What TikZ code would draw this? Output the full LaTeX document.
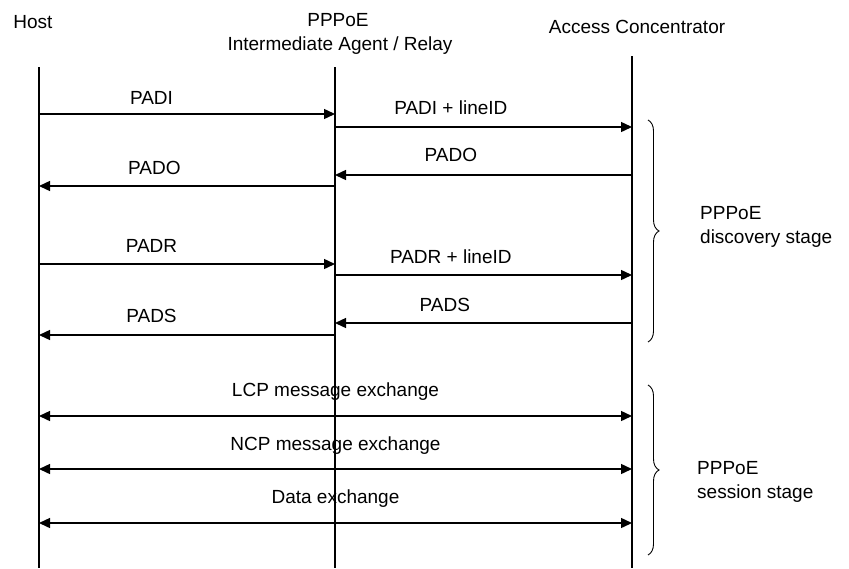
\documentclass[tikz,border=0pt]{standalone}
\usepackage{fontspec}
\setmainfont{Liberation Sans}
\usetikzlibrary{arrows.meta,decorations.pathreplacing}
\begin{document}
\begin{tikzpicture}[x=1pt,y=-1pt,
  lbl/.style={font=\fontsize{19}{21}\selectfont, inner sep=0pt},
  life/.style={line width=1.4pt},
  msg/.style={line width=1.4pt,-{Triangle[length=11pt,width=10pt]}},
  dmsg/.style={line width=1.4pt,{Triangle[length=11pt,width=10pt]}-{Triangle[length=11pt,width=10pt]}},
  brc/.style={decorate,decoration={brace,amplitude=11pt},line width=0.9pt}]
\useasboundingbox (0,0) rectangle (849,568);
% headers
\node[lbl] (host) at (33,22) {Host};
\node[lbl] (relay1) at (338,20) {PPPoE};
\node[lbl] (relay2) at (340,46) {Intermediate Agent / Relay};
\node[lbl] (ac) at (637,27) {Access Concentrator};
% lifelines
\coordinate (Ht) at (39,67); \coordinate (Hb) at (39,568);
\coordinate (Rt) at (335,67); \coordinate (Rb) at (335,568);
\coordinate (At) at (632,56); \coordinate (Ab) at (632,568);
\draw[life] (Ht) -- (Hb);
\draw[life] (Rt) -- (Rb);
\draw[life] (At) -- (Ab);
% message end points
\coordinate (h1) at (39,114);  \coordinate (r1) at (335,114);
\coordinate (r2) at (335,127); \coordinate (a2) at (632,127);
\coordinate (a3) at (632,175); \coordinate (r3) at (335,175);
\coordinate (r4) at (335,186); \coordinate (h4) at (39,186);
\coordinate (h5) at (39,264);  \coordinate (r5) at (335,264);
\coordinate (r6) at (335,275); \coordinate (a6) at (632,275);
\coordinate (a7) at (632,323); \coordinate (r7) at (335,323);
\coordinate (r8) at (335,335); \coordinate (h8) at (39,335);
\coordinate (h9) at (39,416);  \coordinate (a9) at (632,416);
\coordinate (h10) at (39,469); \coordinate (a10) at (632,469);
\coordinate (h11) at (39,523); \coordinate (a11) at (632,523);
% messages
\draw[msg] (h1) -- (r1) node[lbl, pos=0.38, above=9pt] (m1) {PADI};
\draw[msg] (r2) -- (a2) node[lbl, pos=0.39, above=12pt] (m2) {PADI + lineID};
\draw[msg] (a3) -- (r3) node[lbl, pos=0.61, above=13pt] (m3) {PADO};
\draw[msg] (r4) -- (h4) node[lbl, pos=0.61, above=11pt] (m4) {PADO};
\draw[msg] (h5) -- (r5) node[lbl, pos=0.38, above=11pt] (m5) {PADR};
\draw[msg] (r6) -- (a6) node[lbl, pos=0.39, above=11pt] (m6) {PADR + lineID};
\draw[msg] (a7) -- (r7) node[lbl, pos=0.63, above=11pt] (m7) {PADS};
\draw[msg] (r8) -- (h8) node[lbl, pos=0.62, above=12pt] (m8) {PADS};
\draw[dmsg] (h9) -- (a9) node[lbl, midway, above=15pt] (m9) {LCP message exchange};
\draw[dmsg] (h10) -- (a10) node[lbl, midway, above=14pt] (m10) {NCP message exchange};
\draw[dmsg] (h11) -- (a11) node[lbl, midway, above=15pt] (m11) {Data exchange};
% braces
\coordinate (b1t) at (648,120); \coordinate (b1b) at (648,342);
\coordinate (b2t) at (648,385); \coordinate (b2b) at (648,555);
\draw[brc] (b1t) -- (b1b);
\draw[brc] (b2t) -- (b2b);
\node[lbl, anchor=west, align=left] (s1) at (700,227) {PPPoE\\[3pt]discovery stage};
\node[lbl, anchor=west, align=left] (s2) at (697,482) {PPPoE\\[3pt]session stage};
\end{tikzpicture}
\end{document}
